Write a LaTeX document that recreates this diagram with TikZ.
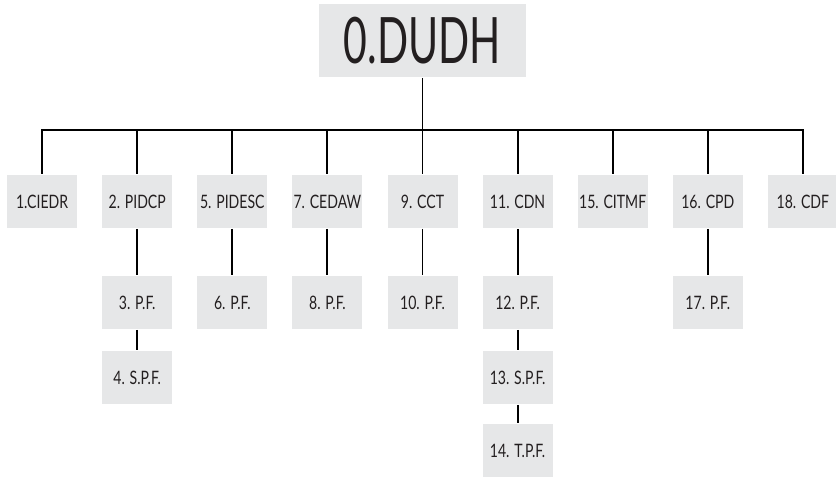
\documentclass[tikz,border=0pt]{standalone}
\usepackage{fontspec}
\setmainfont[FakeStretch=0.76]{Lato}
\newfontfamily\rootfont[FakeStretch=0.64]{Lato}
\usetikzlibrary{positioning}
\definecolor{boxgray}{HTML}{E6E7E8}
\definecolor{ink}{HTML}{231F20}

\begin{document}
\begin{tikzpicture}[x=1pt, y=1pt, line width=1.9pt, every node/.style={fill=boxgray, text=ink, minimum width=70pt, minimum height=53pt, inner sep=0pt, font=\fontsize{18.5}{21}\selectfont}, on grid, node distance=95.1pt]
    \useasboundingbox (0,0) rectangle (836,-478);
    \node[minimum width=207pt, minimum height=73pt, font=\rootfont\fontsize{64}{66}\selectfont] (dudh) at (422.5,-40.5) {0.DUDH};
    \node (cct) [below=161pt of dudh] {9. CCT};
    \node (cedaw) [left=of cct] {7. CEDAW};
    \node (pidesc) [left=of cedaw] {5. PIDESC};
    \node (pidcp) [left=of pidesc] {2. PIDCP};
    \node (ciedr) [left=of pidcp] {1.CIEDR};
    \node (cdn) [right=of cct] {11. CDN};
    \node (citmf) [right=of cdn] {15. CITMF};
    \node (cpd) [right=of citmf] {16. CPD};
    \node (cdf) [right=of cpd] {18. CDF};
    % protocolos
    \node (pf3) [below=101pt of pidcp] {3. P.F.};
    \node (spf4) [below=75pt of pf3] {4. S.P.F.};
    \node (pf6) [below=101pt of pidesc] {6. P.F.};
    \node (pf8) [below=101pt of cedaw] {8. P.F.};
    \node (pf10) [below=101pt of cct] {10. P.F.};
    \node (pf12) [below=101pt of cdn] {12. P.F.};
    \node (spf13) [below=75pt of pf12] {13. S.P.F.};
    \node (tpf14) [below=73pt of spf13] {14. T.P.F.};
    \node (pf17) [below=101pt of cpd] {17. P.F.};

    \draw (dudh.south) -- ++(0,-52) coordinate (bus);
    \foreach \c in {ciedr, pidcp, pidesc, cedaw, cct, cdn, citmf, cpd, cdf}
        \draw (bus) -| (\c.north);
    \draw (pidcp) -- (pf3);
    \draw (pf3) -- (spf4);
    \draw (pidesc) -- (pf6);
    \draw (cedaw) -- (pf8);
    \draw (cct) -- (pf10);
    \draw (cdn) -- (pf12);
    \draw (pf12) -- (spf13);
    \draw (spf13) -- (tpf14);
    \draw (cpd) -- (pf17);
\end{tikzpicture}
\end{document}
